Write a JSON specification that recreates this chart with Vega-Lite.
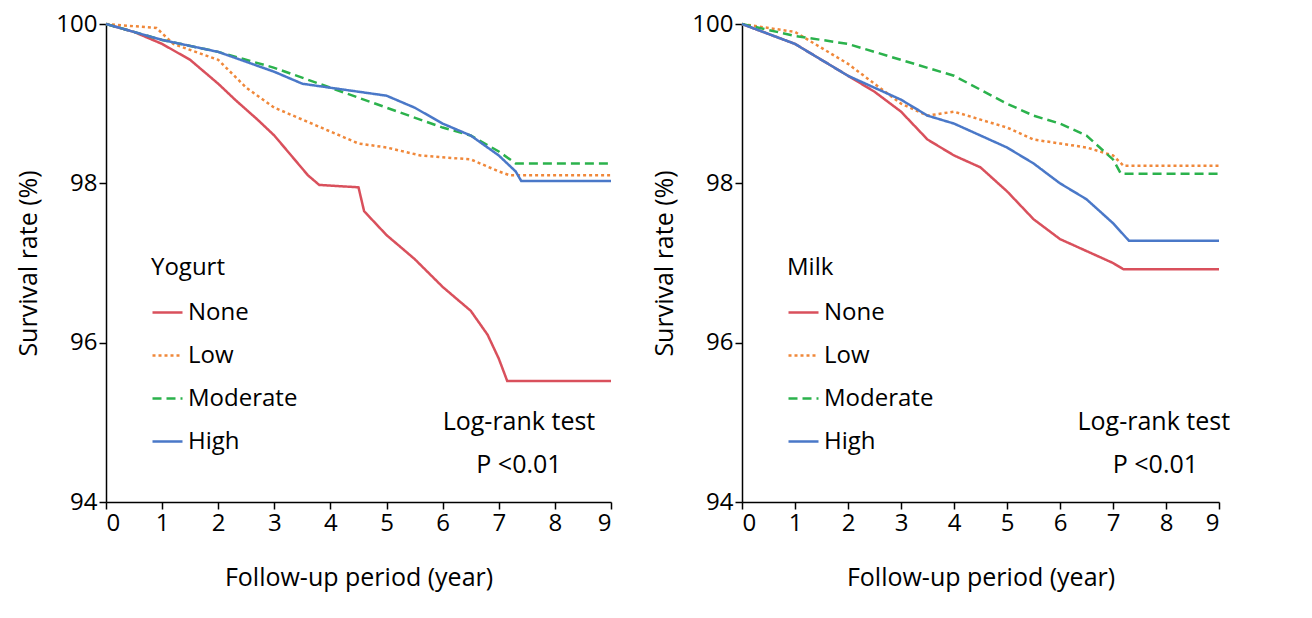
{
  "$schema": "https://vega.github.io/schema/vega-lite/v6.json",
  "background": "white",
  "padding": {"left": 16, "top": 12, "right": 10, "bottom": 5},
  "config": {
    "font": "Open Sans",
    "view": {"stroke": null},
    "axis": {"grid": false, "domainColor": "black", "tickColor": "black", "domainWidth": 1.5, "tickWidth": 1.5, "tickSize": 7, "labelFontSize": 24, "labelColor": "black", "titleFontSize": 25, "titleFontWeight": "normal", "titleColor": "black", "labelFont": "Open Sans", "titleFont": "Open Sans", "format": "d"},
    "legend": {"labelFontSize": 24, "titleFontSize": 24, "titleFontWeight": "normal", "labelColor": "black", "titleColor": "black", "symbolType": "stroke", "symbolSize": 900, "symbolStrokeWidth": 2.5, "rowPadding": 14, "titlePadding": 16, "labelFont": "Open Sans", "titleFont": "Open Sans"}
  },
  "datasets": {
    "curves": [
      {"food":"Yogurt","group":"None","t":0,"s":100},{"food":"Yogurt","group":"None","t":0.5,"s":99.9},{"food":"Yogurt","group":"None","t":1,"s":99.75},{"food":"Yogurt","group":"None","t":1.5,"s":99.55},{"food":"Yogurt","group":"None","t":2,"s":99.25},{"food":"Yogurt","group":"None","t":2.3,"s":99.05},{"food":"Yogurt","group":"None","t":2.7,"s":98.8},{"food":"Yogurt","group":"None","t":3,"s":98.6},{"food":"Yogurt","group":"None","t":3.3,"s":98.35},{"food":"Yogurt","group":"None","t":3.6,"s":98.1},{"food":"Yogurt","group":"None","t":3.8,"s":97.98},{"food":"Yogurt","group":"None","t":4.5,"s":97.95},{"food":"Yogurt","group":"None","t":4.6,"s":97.65},{"food":"Yogurt","group":"None","t":5,"s":97.35},{"food":"Yogurt","group":"None","t":5.5,"s":97.05},{"food":"Yogurt","group":"None","t":6,"s":96.7},{"food":"Yogurt","group":"None","t":6.5,"s":96.4},{"food":"Yogurt","group":"None","t":6.8,"s":96.1},{"food":"Yogurt","group":"None","t":7.0,"s":95.8},{"food":"Yogurt","group":"None","t":7.15,"s":95.52},{"food":"Yogurt","group":"None","t":9,"s":95.52},
      {"food":"Yogurt","group":"Low","t":0,"s":100},{"food":"Yogurt","group":"Low","t":0.9,"s":99.95},{"food":"Yogurt","group":"Low","t":1.2,"s":99.75},{"food":"Yogurt","group":"Low","t":2,"s":99.55},{"food":"Yogurt","group":"Low","t":2.5,"s":99.2},{"food":"Yogurt","group":"Low","t":3,"s":98.95},{"food":"Yogurt","group":"Low","t":3.5,"s":98.8},{"food":"Yogurt","group":"Low","t":4,"s":98.65},{"food":"Yogurt","group":"Low","t":4.5,"s":98.5},{"food":"Yogurt","group":"Low","t":5,"s":98.45},{"food":"Yogurt","group":"Low","t":5.6,"s":98.35},{"food":"Yogurt","group":"Low","t":6.5,"s":98.3},{"food":"Yogurt","group":"Low","t":7,"s":98.15},{"food":"Yogurt","group":"Low","t":7.2,"s":98.1},{"food":"Yogurt","group":"Low","t":9,"s":98.1},
      {"food":"Yogurt","group":"Moderate","t":0,"s":100},{"food":"Yogurt","group":"Moderate","t":1,"s":99.8},{"food":"Yogurt","group":"Moderate","t":2,"s":99.65},{"food":"Yogurt","group":"Moderate","t":3,"s":99.45},{"food":"Yogurt","group":"Moderate","t":4,"s":99.2},{"food":"Yogurt","group":"Moderate","t":5,"s":98.95},{"food":"Yogurt","group":"Moderate","t":6,"s":98.7},{"food":"Yogurt","group":"Moderate","t":6.5,"s":98.6},{"food":"Yogurt","group":"Moderate","t":7,"s":98.4},{"food":"Yogurt","group":"Moderate","t":7.3,"s":98.25},{"food":"Yogurt","group":"Moderate","t":9,"s":98.25},
      {"food":"Yogurt","group":"High","t":0,"s":100},{"food":"Yogurt","group":"High","t":1,"s":99.8},{"food":"Yogurt","group":"High","t":2,"s":99.65},{"food":"Yogurt","group":"High","t":3,"s":99.4},{"food":"Yogurt","group":"High","t":3.5,"s":99.25},{"food":"Yogurt","group":"High","t":4.5,"s":99.15},{"food":"Yogurt","group":"High","t":5,"s":99.1},{"food":"Yogurt","group":"High","t":5.5,"s":98.95},{"food":"Yogurt","group":"High","t":6,"s":98.75},{"food":"Yogurt","group":"High","t":6.5,"s":98.6},{"food":"Yogurt","group":"High","t":7,"s":98.35},{"food":"Yogurt","group":"High","t":7.3,"s":98.15},{"food":"Yogurt","group":"High","t":7.4,"s":98.03},{"food":"Yogurt","group":"High","t":9,"s":98.03},
      {"food":"Milk","group":"None","t":0,"s":100},{"food":"Milk","group":"None","t":1,"s":99.75},{"food":"Milk","group":"None","t":1.5,"s":99.55},{"food":"Milk","group":"None","t":2,"s":99.35},{"food":"Milk","group":"None","t":2.5,"s":99.15},{"food":"Milk","group":"None","t":3,"s":98.9},{"food":"Milk","group":"None","t":3.5,"s":98.55},{"food":"Milk","group":"None","t":4,"s":98.35},{"food":"Milk","group":"None","t":4.5,"s":98.2},{"food":"Milk","group":"None","t":5,"s":97.9},{"food":"Milk","group":"None","t":5.5,"s":97.55},{"food":"Milk","group":"None","t":6,"s":97.3},{"food":"Milk","group":"None","t":6.5,"s":97.15},{"food":"Milk","group":"None","t":7,"s":97.0},{"food":"Milk","group":"None","t":7.2,"s":96.92},{"food":"Milk","group":"None","t":9,"s":96.92},
      {"food":"Milk","group":"Low","t":0,"s":100},{"food":"Milk","group":"Low","t":1,"s":99.9},{"food":"Milk","group":"Low","t":2,"s":99.5},{"food":"Milk","group":"Low","t":2.5,"s":99.25},{"food":"Milk","group":"Low","t":3,"s":99.0},{"food":"Milk","group":"Low","t":3.5,"s":98.85},{"food":"Milk","group":"Low","t":4,"s":98.9},{"food":"Milk","group":"Low","t":4.5,"s":98.8},{"food":"Milk","group":"Low","t":5,"s":98.7},{"food":"Milk","group":"Low","t":5.5,"s":98.55},{"food":"Milk","group":"Low","t":6,"s":98.5},{"food":"Milk","group":"Low","t":6.5,"s":98.45},{"food":"Milk","group":"Low","t":7,"s":98.35},{"food":"Milk","group":"Low","t":7.2,"s":98.22},{"food":"Milk","group":"Low","t":9,"s":98.22},
      {"food":"Milk","group":"Moderate","t":0,"s":100},{"food":"Milk","group":"Moderate","t":1,"s":99.85},{"food":"Milk","group":"Moderate","t":2,"s":99.75},{"food":"Milk","group":"Moderate","t":3,"s":99.55},{"food":"Milk","group":"Moderate","t":4,"s":99.35},{"food":"Milk","group":"Moderate","t":5,"s":99.0},{"food":"Milk","group":"Moderate","t":5.5,"s":98.85},{"food":"Milk","group":"Moderate","t":6,"s":98.75},{"food":"Milk","group":"Moderate","t":6.5,"s":98.6},{"food":"Milk","group":"Moderate","t":7,"s":98.3},{"food":"Milk","group":"Moderate","t":7.15,"s":98.12},{"food":"Milk","group":"Moderate","t":9,"s":98.12},
      {"food":"Milk","group":"High","t":0,"s":100},{"food":"Milk","group":"High","t":1,"s":99.75},{"food":"Milk","group":"High","t":2,"s":99.35},{"food":"Milk","group":"High","t":2.5,"s":99.2},{"food":"Milk","group":"High","t":3,"s":99.05},{"food":"Milk","group":"High","t":3.5,"s":98.85},{"food":"Milk","group":"High","t":4,"s":98.75},{"food":"Milk","group":"High","t":5,"s":98.45},{"food":"Milk","group":"High","t":5.5,"s":98.25},{"food":"Milk","group":"High","t":6,"s":98.0},{"food":"Milk","group":"High","t":6.5,"s":97.8},{"food":"Milk","group":"High","t":7,"s":97.5},{"food":"Milk","group":"High","t":7.3,"s":97.28},{"food":"Milk","group":"High","t":9,"s":97.28}
    ],
    "notesY": [
      {"t": 7.36, "s": 95.0, "label": "Log-rank test"},
      {"t": 7.36, "s": 94.47, "label": "P <0.01"}
    ],
    "notesM": [
      {"t": 7.77, "s": 95.0, "label": "Log-rank test"},
      {"t": 7.8, "s": 94.47, "label": "P <0.01"}
    ]
  },
  "hconcat": [
    {
      "width": 505, "height": 478,
      "layer": [
        {
          "data": {"name": "curves"},
          "transform": [{"filter": "datum.food === 'Yogurt'"}],
          "mark": {"type": "line", "strokeWidth": 2.5},
          "encoding": {
            "x": {"field": "t", "type": "quantitative", "scale": {"domain": [0, 9], "nice": false}, "axis": {"values": [0,1,2,3,4,5,6,7,8,9], "title": "Follow-up period (year)", "titlePadding": 30}},
            "y": {"field": "s", "type": "quantitative", "scale": {"domain": [94, 100], "nice": false}, "axis": {"values": [94, 96, 98, 100], "title": "Survival rate (%)", "titlePadding": 14}},
            "color": {"field": "group", "type": "nominal", "scale": {"domain": ["None","Low","Moderate","High"], "range": ["#d9505c","#f0883a","#2bb24c","#4a78c8"]}, "legend": {"title": "Yogurt", "orient": "none", "legendX": 45, "legendY": 232}},
            "strokeDash": {"field": "group", "type": "nominal", "scale": {"domain": ["None","Low","Moderate","High"], "range": [[1,0],[3,3],[9,5],[1,0]]}, "legend": null},
            "detail": {"field": "group"}
          }
        },
        {
          "data": {"name": "notesY"},
          "mark": {"type": "text", "fontSize": 25, "align": "center", "baseline": "middle", "color": "black"},
          "encoding": {"x": {"field": "t", "type": "quantitative"}, "y": {"field": "s", "type": "quantitative"}, "text": {"field": "label"}}
        }
      ]
    },
    {
      "width": 477, "height": 478,
      "layer": [
        {
          "data": {"name": "curves"},
          "transform": [{"filter": "datum.food === 'Milk'"}],
          "mark": {"type": "line", "strokeWidth": 2.5},
          "encoding": {
            "x": {"field": "t", "type": "quantitative", "scale": {"domain": [0, 9], "nice": false}, "axis": {"values": [0,1,2,3,4,5,6,7,8,9], "title": "Follow-up period (year)", "titlePadding": 30}},
            "y": {"field": "s", "type": "quantitative", "scale": {"domain": [94, 100], "nice": false}, "axis": {"values": [94, 96, 98, 100], "title": "Survival rate (%)", "titlePadding": 14}},
            "color": {"field": "group", "type": "nominal", "scale": {"domain": ["None","Low","Moderate","High"], "range": ["#d9505c","#f0883a","#2bb24c","#4a78c8"]}, "legend": {"title": "Milk", "orient": "none", "legendX": 45, "legendY": 232}},
            "strokeDash": {"field": "group", "type": "nominal", "scale": {"domain": ["None","Low","Moderate","High"], "range": [[1,0],[3,3],[9,5],[1,0]]}, "legend": null},
            "detail": {"field": "group"}
          }
        },
        {
          "data": {"name": "notesM"},
          "mark": {"type": "text", "fontSize": 25, "align": "center", "baseline": "middle", "color": "black"},
          "encoding": {"x": {"field": "t", "type": "quantitative"}, "y": {"field": "s", "type": "quantitative"}, "text": {"field": "label"}}
        }
      ]
    }
  ],
  "spacing": 36,
  "resolve": {"scale": {"color": "independent", "strokeDash": "independent"}, "legend": {"color": "independent"}}
}
